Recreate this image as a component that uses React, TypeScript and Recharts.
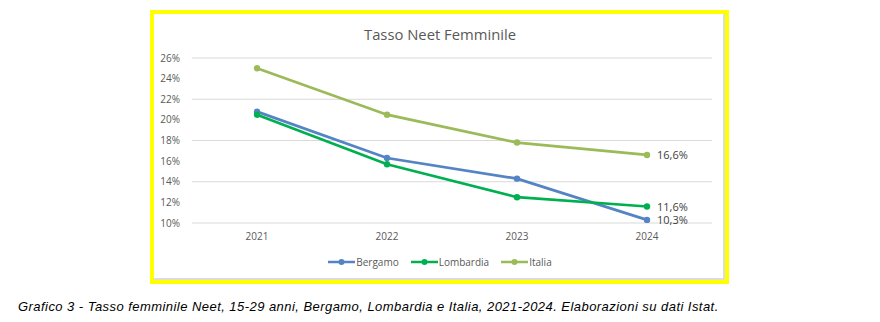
import React from "react";
import { CartesianGrid, LabelList, Line, LineChart, XAxis, YAxis } from "recharts";

const years = ["2021", "2022", "2023", "2024"];
const bergamo = [20.8, 16.3, 14.3, 10.3];
const lombardia = [20.5, 15.7, 12.5, 11.6];
const italia = [25.0, 20.5, 17.8, 16.6];
const yTicks = [10, 12, 14, 16, 18, 20, 22, 24, 26];

const series = [
    { key: "Bergamo", color: "#5584C4" },
    { key: "Lombardia", color: "#00B050" },
    { key: "Italia", color: "#9BBB59" },
];

const data = years.map((y, i) => ({
    year: y,
    Bergamo: bergamo[i],
    Lombardia: lombardia[i],
    Italia: italia[i],
}));

const font = "'Open Sans', 'Liberation Sans', sans-serif";
const pct = (v: number) => v.toFixed(1).replace(".", ",") + "%";

function lastLabel(props: any) {
    const { x, y, value, index } = props;
    if (index !== years.length - 1) return null;
    return (
        <text x={x + 10} y={y + 4.5} fontSize={11} fill="#404040" fontFamily={font}>
            {pct(value)}
        </text>
    );
}

function LegendRow() {
    return (
        <div
            style={{
                position: "absolute",
                left: 0,
                width: 880,
                top: 255,
                display: "flex",
                justifyContent: "center",
                gap: 12,
                fontFamily: font,
                fontSize: 10,
                color: "#595959",
            }}
        >
            {series.map((s) => (
                <div key={s.key} style={{ display: "flex", alignItems: "center" }}>
                    <svg width={27} height={8}>
                        <line x1={0} y1={4} x2={27} y2={4} stroke={s.color} strokeWidth={2.5} />
                        <circle cx={13.5} cy={4} r={3} fill={s.color} />
                    </svg>
                    <span style={{ marginLeft: 1 }}>{s.key}</span>
                </div>
            ))}
        </div>
    );
}

export default function App() {
    return (
        <div style={{ position: "absolute", left: 0, top: 0, width: 880, height: 322, background: "#fff" }}>
            <div
                style={{
                    position: "absolute",
                    left: 150,
                    top: 10,
                    width: 571,
                    height: 266,
                    border: "4px solid #FFFF00",
                }}
            >
                <div
                    style={{
                        position: "absolute",
                        left: 0,
                        top: 0,
                        right: 0,
                        bottom: 0,
                        borderRight: "2px solid #dcdcdc",
                        borderBottom: "2px solid #dcdcdc",
                    }}
                />
            </div>
            <div
                style={{
                    position: "absolute",
                    left: 0,
                    width: 880,
                    top: 24,
                    textAlign: "center",
                    fontFamily: font,
                    fontSize: 14.8,
                    color: "#595959",
                }}
            >
                Tasso Neet Femminile
            </div>
            <div style={{ position: "absolute", left: 0, top: 0 }}>
                <LineChart width={880} height={322} data={data} margin={{ top: 58, right: 168, bottom: 69, left: 0 }}>
                    <CartesianGrid vertical={false} stroke="#d9d9d9" />
                    <XAxis
                        dataKey="year"
                        height={30}
                        padding={{ left: 65, right: 65 }}
                        axisLine={false}
                        tickLine={false}
                        tickSize={0}
                        tickMargin={10}
                        tick={{ fontSize: 10, fill: "#595959", fontFamily: font }}
                    />
                    <YAxis
                        width={192}
                        domain={[10, 26]}
                        ticks={yTicks}
                        axisLine={false}
                        tickLine={false}
                        tickSize={0}
                        tickMargin={12}
                        tickFormatter={(v: number) => `${v}%`}
                        tick={{ fontSize: 10, fill: "#595959", fontFamily: font }}
                    />
                    {series.map((s) => (
                        <Line
                            key={s.key}
                            dataKey={s.key}
                            stroke={s.color}
                            strokeWidth={2.75}
                            dot={{ r: 3.2, fill: s.color, stroke: s.color, strokeWidth: 0 }}
                            activeDot={false}
                            isAnimationActive={false}
                        >
                            <LabelList dataKey={s.key} content={lastLabel} />
                        </Line>
                    ))}
                </LineChart>
            </div>
            <LegendRow />
            <div
                style={{
                    position: "absolute",
                    left: 18,
                    top: 299,
                    fontFamily: "'Liberation Sans', Arial, sans-serif",
                    fontStyle: "italic",
                    fontSize: 13,
                    letterSpacing: 0.45,
                    color: "#000",
                    whiteSpace: "nowrap",
                }}
            >
                Grafico 3 - Tasso femminile Neet, 15-29 anni, Bergamo, Lombardia e Italia, 2021-2024. Elaborazioni su dati Istat.
            </div>
        </div>
    );
}
